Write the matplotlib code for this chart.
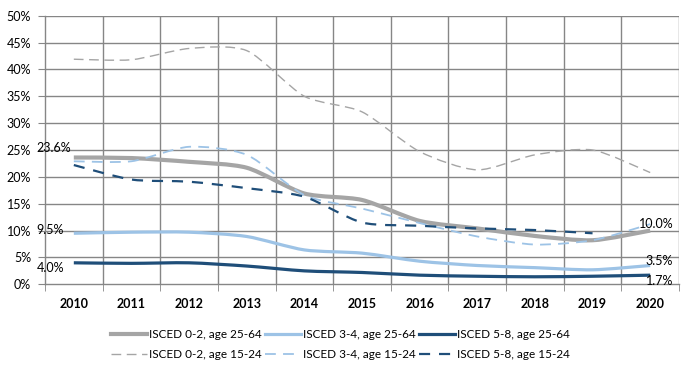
import numpy as np
import matplotlib
matplotlib.use("Agg")
import matplotlib.pyplot as plt
from matplotlib.path import Path
from matplotlib.patches import PathPatch
from matplotlib.lines import Line2D

years = ["2010", "2011", "2012", "2013", "2014", "2015", "2016", "2017", "2018", "2019", "2020"]

isced02_2564 = [23.6, 23.5, 22.8, 21.7, 16.9, 15.7, 11.8, 10.4, 9.0, 8.2, 10.0]
isced34_2564 = [9.5, 9.7, 9.7, 8.9, 6.4, 5.8, 4.3, 3.5, 3.1, 2.7, 3.5]
isced58_2564 = [4.0, 3.9, 4.0, 3.4, 2.5, 2.2, 1.7, 1.5, 1.4, 1.5, 1.7]
isced02_1524 = [41.9, 41.8, 43.9, 43.5, 35.0, 32.1, 24.7, 21.3, 24.1, 25.0, 20.8]
isced34_1524 = [22.9, 22.9, 25.6, 24.1, 16.6, 14.1, 11.4, 8.9, 7.4, 8.2, 11.2]
isced58_1524 = [22.2, 19.5, 19.1, 17.9, 16.3, 11.5, 10.9, 10.4, 10.1, 9.5, np.nan]

labels = ["ISCED 0-2, age 25-64", "ISCED 3-4, age 25-64", "ISCED 5-8, age 25-64",
          "ISCED 0-2, age 15-24", "ISCED 3-4, age 15-24", "ISCED 5-8, age 15-24"]

GRAY = "#A5A5A5"
LBLUE = "#9DC3E6"
DBLUE = "#1F4E79"

plt.rcParams['font.family'] = ['Lato', 'DejaVu Sans']

fig = plt.figure(figsize=(6.81, 3.73), dpi=100)
ax = fig.add_axes([45/681, 1-284.3/373, (679-45)/681, (284.3-15.7)/373])

TENSION = 1 / 8


def smooth_path(xs, ys):
    pts = [(x, y) for x, y in zip(xs, ys) if not np.isnan(y)]
    n = len(pts)
    verts = [pts[0]]
    codes = [Path.MOVETO]
    for i in range(n - 1):
        p0 = pts[i - 1] if i > 0 else pts[i]
        p1 = pts[i]
        p2 = pts[i + 1]
        p3 = pts[i + 2] if i + 2 < n else pts[i + 1]
        c1 = (p1[0] + (p2[0] - p0[0]) * TENSION, p1[1] + (p2[1] - p0[1]) * TENSION)
        c2 = (p2[0] - (p3[0] - p1[0]) * TENSION, p2[1] - (p3[1] - p1[1]) * TENSION)
        verts += [c1, c2, p2]
        codes += [Path.CURVE4] * 3
    return Path(verts, codes)


x = np.arange(len(years))
series = [
    (isced02_2564, GRAY, 3.0, "-"),
    (isced34_2564, LBLUE, 2.3, "-"),
    (isced58_2564, DBLUE, 2.3, "-"),
    (isced02_1524, GRAY, 1.0, (0, (7, 4))),
    (isced34_1524, LBLUE, 1.3, (0, (6, 4))),
    (isced58_1524, DBLUE, 1.6, (0, (5, 4))),
]

handles = []
for (vals, col, lw, ls), lab in zip(series, labels):
    p = smooth_path(x, np.array(vals, dtype=float))
    patch = PathPatch(p, fill=False, edgecolor=col, lw=lw, linestyle=ls, zorder=3,
                      capstyle='butt', joinstyle='round')
    ax.add_patch(patch)
    handles.append(Line2D([0], [0], color=col, lw=lw, linestyle=ls))

ax.set_xlim(-0.5, len(years) - 0.5)
ax.set_ylim(0, 50)
ax.set_yticks(np.arange(0, 51, 5))
ax.set_yticklabels([f"{v}%" for v in range(0, 51, 5)], fontsize=9)
ax.set_xticks(x)
ax.set_xticklabels(years, fontsize=9, fontweight='bold')
ax.set_xticks(np.arange(-0.5, len(years), 1), minor=True)
ax.tick_params(axis='x', which='major', length=0, pad=10)
ax.tick_params(axis='x', which='minor', length=5, color="#868686")
ax.tick_params(axis='y', length=5, color="#868686", pad=5)
ax.grid(False)
for v in np.arange(5, 51, 5):
    ax.axhline(v, color="#868686", lw=1, zorder=1)
for v in np.arange(0.5, len(years), 1):
    ax.axvline(v, color="#868686", lw=1, zorder=1)
for s in ["top", "right"]:
    ax.spines[s].set_visible(False)
for s in ["left", "bottom"]:
    ax.spines[s].set_color("#868686")
    ax.spines[s].set_linewidth(1)

# data labels (offsets in points)
lab_kw = dict(textcoords="offset points", va="center", fontsize=9, zorder=5)
ax.annotate(f"{isced02_2564[0]:.1f}%", (0, isced02_2564[0]), xytext=(-27, 7.2), ha="left", **lab_kw)
ax.annotate(f"{isced34_2564[0]:.1f}%", (0, isced34_2564[0]), xytext=(-27, 2.2), ha="left", **lab_kw)
ax.annotate(f"{isced58_2564[0]:.1f}%", (0, isced58_2564[0]), xytext=(-27, -3.6), ha="left", **lab_kw)
ax.annotate(f"{isced02_2564[-1]:.1f}%", (10, isced02_2564[-1]), xytext=(16.6, 5), ha="right", **lab_kw)
ax.annotate(f"{isced34_2564[-1]:.1f}%", (10, isced34_2564[-1]), xytext=(16.6, 2.9), ha="right", **lab_kw)
ax.annotate(f"{isced58_2564[-1]:.1f}%", (10, isced58_2564[-1]), xytext=(16.6, -4.3), ha="right", **lab_kw)

order = [0, 3, 1, 4, 2, 5]
fig.legend([handles[i] for i in order], [labels[i] for i in order],
           loc="center", bbox_to_anchor=(0.5, 1 - 344.5/373), ncol=3, frameon=False,
           fontsize=8.5, handlelength=3.0, handletextpad=0.2, columnspacing=0.3,
           labelspacing=0.8)

fig.savefig("out.png", dpi=100)
